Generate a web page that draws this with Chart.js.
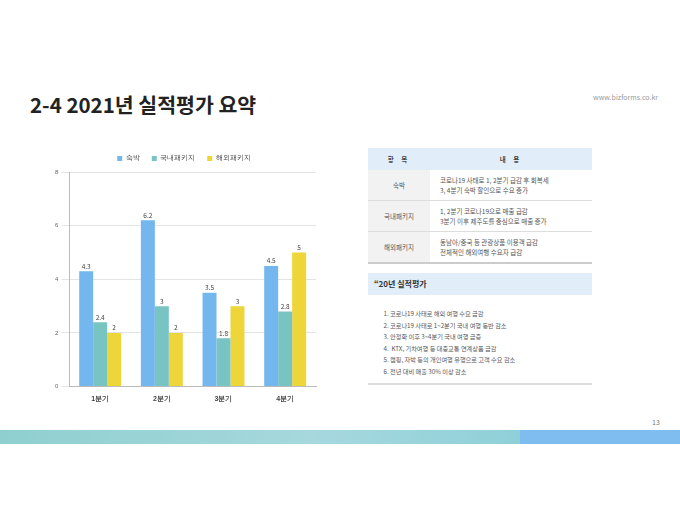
<!DOCTYPE html>
<html><head><meta charset="utf-8">
<script src="https://cdn.jsdelivr.net/npm/chart.js@4"></script>
<style>
body{margin:0;width:680px;height:510px;background:#fff;font-family:"Noto Sans CJK KR","Noto Sans",sans-serif;position:relative;overflow:hidden}
.abs{position:absolute}
#title{left:30px;top:89px;font-size:20.5px;font-weight:bold;color:#222}
#url{right:22px;top:92px;font-size:7px;color:#999}
#chartWrap{left:52px;top:143px;width:272px;height:260px}
table{border-collapse:collapse;font-size:6.5px;color:#555}
#tbl{left:368px;top:148px;width:224px}
#tbl td,#tbl th{padding:0}
#tbl th{background:#e1eef9;height:22px;font-weight:bold;color:#444;letter-spacing:3px}
#tbl td.k{background:#f2f2f2;width:62px;text-align:center}
#tbl td.v{padding-left:10px;line-height:10px}
#tbl tr.r td{height:30px;border-bottom:1px solid #ddd}
#tbl tr.last td{border-bottom:2px solid #ccc}
#box2{left:368px;top:273px;width:224px;height:110px;border-bottom:2px solid #ddd}
#box2 .h{background:#e1eef9;height:22px;line-height:22px;padding-left:6px;font-size:8px;font-weight:bold;color:#333}
#box2 ol{margin:13px 0 0 0;padding-left:22px;font-size:6.2px;color:#555;line-height:11.5px}
#bar1{left:0;top:430px;width:520px;height:14px;background:linear-gradient(90deg,#8fcfcf,#a6d8de 60%,#8fd0d8)}
#bar2{left:520px;top:430px;width:160px;height:14px;background:#7fbdf0}
#pg{left:652px;top:417px;font-size:7px;color:#777}
</style></head><body>
<div class="abs" id="title">2-4 2021년 실적평가 요약</div>
<div class="abs" id="url">www.bizforms.co.kr</div>
<div class="abs" id="chartWrap"><canvas id="c"></canvas></div>
<table class="abs" id="tbl">
<tr><th>항 목</th><th>내 용</th></tr>
<tr class="r"><td class="k">숙박</td><td class="v">코로나19 사태로 1, 2분기 급감 후 회복세<br>3, 4분기 숙박 할인으로 수요 증가</td></tr>
<tr class="r"><td class="k">국내패키지</td><td class="v">1, 2분기 코로나19으로 매출 급감<br>3분기 이후 제주도를 중심으로 매출 증가</td></tr>
<tr class="r last"><td class="k">해외패키지</td><td class="v">동남아/중국 등 관광상품 이용객 급감<br>전체적인 해외여행 수요자 급감</td></tr>
</table>
<div class="abs" id="box2"><div class="h">“20년 실적평가</div>
<ol>
<li>코로나19 사태로 해외 여행 수요 급감</li>
<li>코로나19 사태로 1~2분기 국내 여행 동반 감소</li>
<li>안정화 이후 3~4분기 국내 여행 급증</li>
<li>&nbsp;KTX, 기차여행 등 대중교통 연계상품 급감</li>
<li>캠핑, 자박 등의 개인여행 유행으로 고객 수요 감소</li>
<li>전년 대비 매출 30% 이상 감소</li>
</ol></div>
<div class="abs" id="bar1"></div><div class="abs" id="bar2"></div>
<div class="abs" id="pg">13</div>
<script>
const categories=["1분기","2분기","3분기","4분기"];
const lodging=[4.3,6.2,3.5,4.5];
const domestic=[2.4,3,1.8,2.8];
const overseas=[2,2,3,5];
const seriesNames=["숙박","국내패키지","해외패키지"];
const colors=["#74b6ee","#78c4c2","#edd53a"];
const labelPlugin={id:"lbl",afterDatasetsDraw(ch){const ctx=ch.ctx;ctx.save();ctx.font="6.5px 'Noto Sans CJK KR'";ctx.fillStyle="#444";ctx.textAlign="center";
ch.data.datasets.forEach((d,i)=>{ch.getDatasetMeta(i).data.forEach((b,j)=>{ctx.fillText(String(d.data[j]),b.x,b.y-5);});});ctx.restore();}};
new Chart(document.getElementById("c"),{type:"bar",
data:{labels:categories,datasets:[lodging,domestic,overseas].map((d,i)=>({label:seriesNames[i],data:d,backgroundColor:colors[i],categoryPercentage:0.68,barPercentage:1}))},
options:{responsive:true,maintainAspectRatio:false,animation:false,
layout:{padding:{right:8}},
plugins:{legend:{position:"top",labels:{boxWidth:5,boxHeight:5,font:{size:7},color:"#444",padding:12}},tooltip:{enabled:false}},
scales:{y:{min:0,max:8,ticks:{stepSize:2,font:{size:6},color:"#666"},grid:{color:"#e4e4e4",borderDash:[3,3]},border:{display:true,color:"#bbb"}},
x:{ticks:{padding:0,font:{size:7,weight:"bold"},color:"#444"},grid:{display:false},border:{color:"#bbb"}}}},
plugins:[labelPlugin]});
</script></body></html>
